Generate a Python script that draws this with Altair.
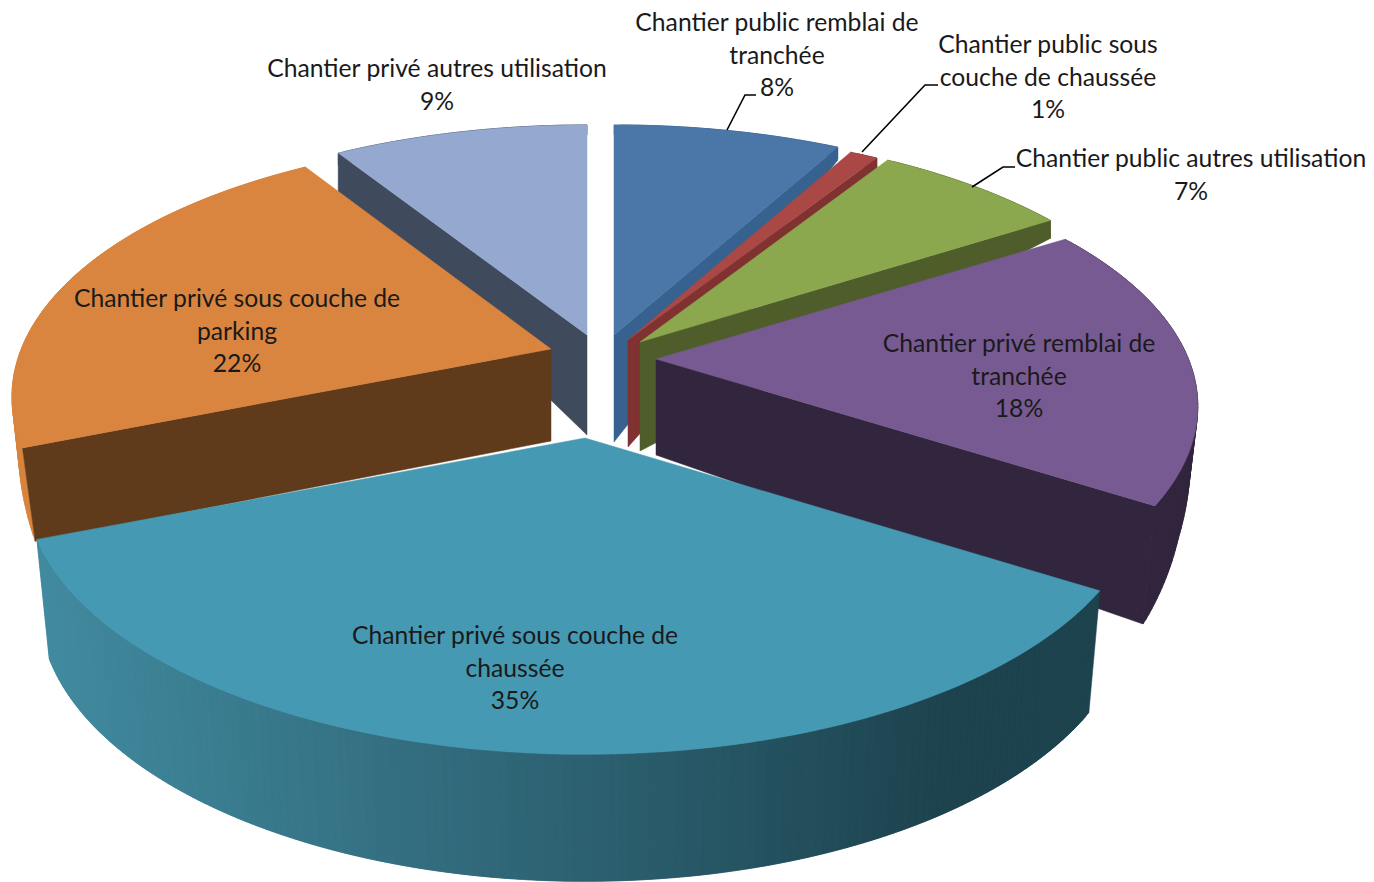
import math
import altair as alt

# ---- chart values ----
categories = [
    ["Chantier public remblai de", "tranchée"],
    ["Chantier public sous", "couche de chaussée"],
    ["Chantier public autres utilisation"],
    ["Chantier privé remblai de", "tranchée"],
    ["Chantier privé sous couche de", "chaussée"],
    ["Chantier privé sous couche de", "parking"],
    ["Chantier privé autres utilisation"],
]
values = [8, 1, 7, 18, 35, 22, 9]

# ---- style / layout ----
top_colors = ["#4a76a8", "#a94845", "#8ba84f", "#775a91", "#4599b2", "#d9853f", "#95a9d0"]
wall_colors = ["#37618f", "#7f3230", "#4e5d2a", "#32263f", "#1d434e", "#5f3a1b", "#3f4a5c"]
outer_colors = ["#37618f", "#7f3230", "#4e5d2a", "#32263f", None, "#d8853e", "#3f4a5c"]
apex_top = [(614, 335), (628, 340), (640, 342), (656, 359), (585, 438), (551, 349), (587, 335)]
apex_floor = [442, 447, 451, 455, 535, 441, 435]
radius_x_scale = [0.99, 0.985, 0.98, 0.977, 1.008, 0.972, 0.985]
radius_y_scale = [1.0, 1.0, 1.0, 0.985, 1.025, 1.0, 1.0]
radial_wall_side = ["end", "end", "end", "end", None, "start", "start"]
wall_end_drop = [13, 10, 18, None, None, None, 42]
paint_order = [6, 0, 1, 2, 3, 5, 4]
label_centers = [(777, 24), (1048, 46), (1191, 160), (1019, 345), (515, 637), (237, 300), (437, 70)]
line_step = 32.5
leaders = [
    [(727, 130), (745, 95), (756, 95)],
    [(862, 152), (925, 85), (938, 85)],
    [(972, 187), (1003, 167), (1015, 167)],
]
teal_stops = [(40, (0x41, 0x8a, 0x9f)), (600, (0x2c, 0x60, 0x70)), (950, (0x1d, 0x43, 0x4e))]
RX, RY, PERSP_X, PERSP_Y = 545.0, 250.0, 0.185, 0.19
H_Y = [125, 222, 335, 400, 447, 504, 593, 755]
H_V = [10, 18, 50, 70, 93, 118, 122, 127]
LEAN_Y = [335, 447]
LEAN_V = [0.0, 0.022]


def interp(v, xs, ys):
    if v <= xs[0]:
        return ys[0]
    for i in range(1, len(xs)):
        if v <= xs[i]:
            t = (v - xs[i - 1]) / (xs[i] - xs[i - 1])
            return ys[i - 1] + t * (ys[i] - ys[i - 1])
    return ys[-1]


def rim(i, deg):
    a = math.radians(deg)
    c = math.cos(a)
    ax, ay = apex_top[i]
    return (ax + RX * radius_x_scale[i] / (1 + PERSP_X * c) * math.sin(a),
            ay - RY * radius_y_scale[i] / (1 + PERSP_Y * c) * c)


def floor(p):
    return (p[0] - interp(p[1], LEAN_Y, LEAN_V) * (p[0] - 600), p[1] + interp(p[1], H_Y, H_V))


def teal_shade(x):
    xs = [s[0] for s in teal_stops]
    rgb = [interp(x, xs, [s[1][k] for s in teal_stops]) for k in range(3)]
    return "#%02x%02x%02x" % tuple(int(round(c)) for c in rgb)


def poly(points, color):
    ring = [list(p) for p in points] + [list(points[0])]
    return {"type": "Feature", "properties": {},
            "geometry": {"type": "Polygon", "coordinates": [ring]}, "paint": color}


total = sum(values)
starts = [sum(values[:i]) / total * 360 for i in range(len(values))]
ends = [sum(values[: i + 1]) / total * 360 for i in range(len(values))]

shapes = []
for i in paint_order:
    a0, a1 = starts[i], ends[i]
    n = max(2, int((a1 - a0) / 0.8))
    angles = [a0 + (a1 - a0) * k / n for k in range(n + 1)]
    top = [rim(i, a) for a in angles]
    # outer wall: each strip overlaps the next so no seams show
    for k in range(n):
        p, q = top[k], top[min(k + 2, n)]
        col = outer_colors[i] or teal_shade(p[0])
        shapes.append(poly([p, q, floor(q), floor(p)], col))
    apex = apex_top[i]
    base = (apex[0], apex_floor[i])
    side = radial_wall_side[i]
    if side:
        corner = top[-1] if side == "end" else top[0]
        drop = wall_end_drop[i]
        foot = floor(corner) if drop is None else (corner[0], corner[1] + drop)
        shapes.append(poly([apex, corner, foot, base], wall_colors[i]))
    shapes.append(poly([apex] + top, top_colors[i]))

text_rows = []
for name, val, (cx, cy) in zip(categories, values, label_centers):
    for j, line in enumerate(list(name) + [f"{val}%"]):
        text_rows.append({"x": cx - 8, "y": cy + j * line_step - 8, "t": line})

leader_rows = []
for k, path in enumerate(leaders):
    for j, (x, y) in enumerate(path):
        leader_rows.append({"x": x - 8, "y": y - 8, "k": k, "j": j})

pie = alt.Chart(alt.Data(values=shapes)).mark_geoshape(strokeWidth=0.5).encode(
    fill=alt.Fill("paint:N", scale=None),
    stroke=alt.Stroke("paint:N", scale=None),
).project(type="identity", scale=1, translate=[-8, -8])

lines = alt.Chart(alt.Data(values=leader_rows)).mark_line(color="#000000", strokeWidth=1.6).encode(
    x=alt.X("x:Q", scale=None, axis=None),
    y=alt.Y("y:Q", scale=None, axis=None),
    detail="k:N",
    order="j:Q",
)

labels = alt.Chart(alt.Data(values=text_rows)).mark_text(
    font="Lato", fontSize=24.7, color="#1a1a1a", align="center", baseline="middle"
).encode(
    x=alt.X("x:Q", scale=None, axis=None),
    y=alt.Y("y:Q", scale=None, axis=None),
    text="t:N",
)

chart = alt.layer(pie, lines, labels).properties(
    width=1358, height=874, padding=0,
    autosize=alt.AutoSizeParams(type="none"),
).configure_view(stroke=None)

chart.save("out.html", embed_options={"renderer": "svg", "actions": False})
